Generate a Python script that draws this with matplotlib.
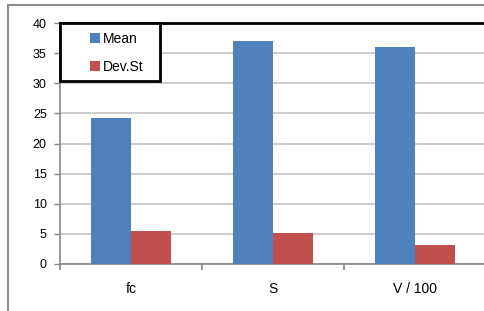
import matplotlib.pyplot as plt
import matplotlib.patches as mpatches
import numpy as np

# datos
categorias = ["fc", "S", "V / 100"]
media = [24.2, 37.0, 36.0]
desv = [5.4, 5.1, 3.2]

plt.rcParams["font.family"] = ["Liberation Sans", "DejaVu Sans"]

fig = plt.figure(figsize=(4.84, 3.11), dpi=100)
ax = fig.add_axes([60 / 484, 1 - 264 / 311, 426 / 484, 241 / 311])

x = np.arange(len(categorias))
ancho = 0.28
ax.bar(x - ancho / 2, media, ancho, color="#4F81BD", label="Mean", zorder=3)
ax.bar(x + ancho / 2, desv, ancho, color="#C0504D", label="Dev.St", zorder=3)

ax.set_xlim(-0.5, len(categorias) - 0.5)
ax.set_ylim(0, 40)
ax.set_yticks(range(0, 41, 5))
ax.set_xticks(x)
ax.set_xticklabels(categorias, fontsize=10)
ax.tick_params(axis="x", length=0, pad=13)
ax.set_xticks([-0.5, 0.5, 1.5], minor=True)
ax.tick_params(axis="x", which="minor", length=4, color="#868686", width=1.2)
ax.tick_params(axis="y", labelsize=9, length=4.5, color="#868686", width=1, pad=5)

ax.yaxis.grid(True, color="#c4c4c4", lw=1.2, zorder=0)
ax.set_axisbelow(True)

for lado in ["left", "bottom"]:
    ax.spines[lado].set_color("#868686")
    ax.spines[lado].set_linewidth(1.2)
ax.spines["right"].set_visible(False)
ax.spines["top"].set_color("black")
ax.spines["top"].set_linewidth(2)

# caja de la leyenda
caja = mpatches.Rectangle((0, (264 - 81) / 241), 100 / 426, 1 - (264 - 81) / 241,
                          transform=ax.transAxes, fill=True, facecolor="white",
                          edgecolor="black", lw=2, zorder=5, clip_on=False)
ax.add_patch(caja)
leg = ax.legend(loc="center left", bbox_to_anchor=(23 / 426, (264 - 53) / 241),
                frameon=False, borderpad=0, fontsize=10,
                handlelength=0.7, handleheight=0.7,
                handletextpad=0.25, labelspacing=1.0)
leg.set_zorder(6)

# marco exterior
marco = mpatches.Rectangle((8 / 484, -0.1), 1.1, 1.1 - 5 / 311,
                           transform=fig.transFigure, fill=False,
                           edgecolor="#8c8c8c", lw=1.5)
fig.patches.append(marco)

fig.savefig("out.png", dpi=100)
